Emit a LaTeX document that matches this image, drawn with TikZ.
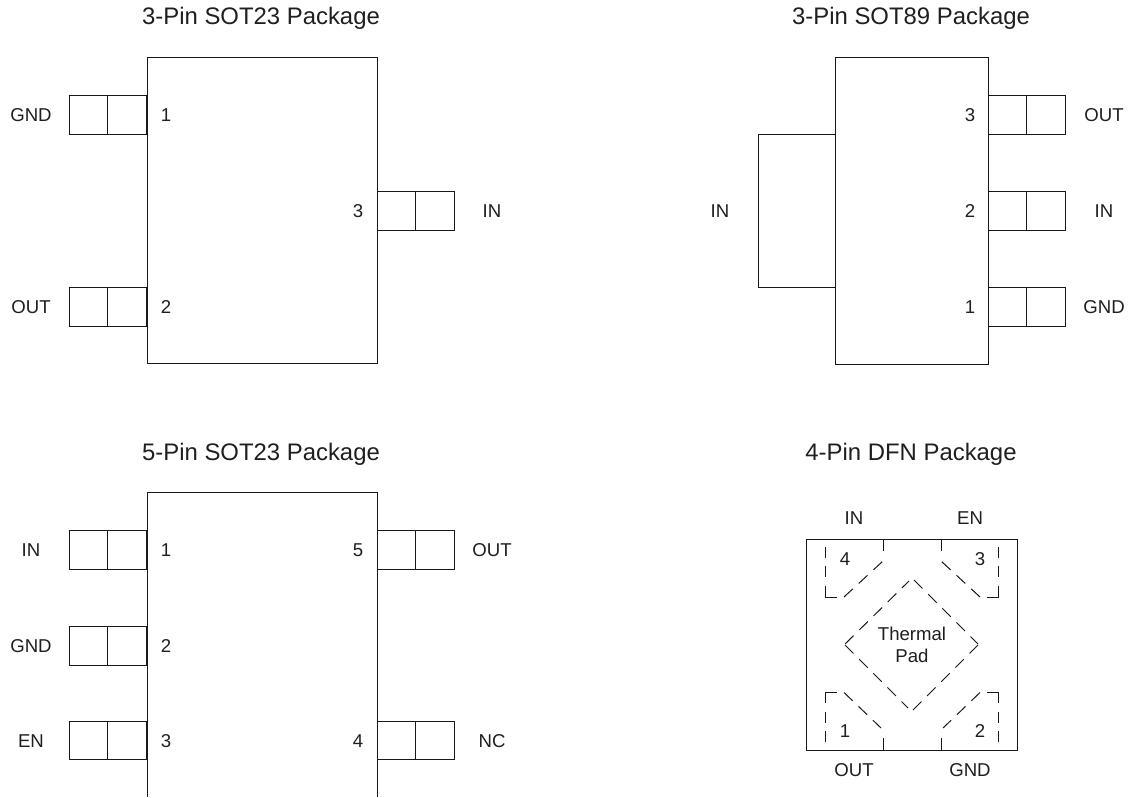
\documentclass[tikz,border=0pt]{standalone}
\usepackage{fontspec}
\setmainfont{Liberation Sans}
\begin{document}
\begin{tikzpicture}[x=1pt,y=-1pt,
  outline/.style={draw=black!90,line width=1pt,fill=none},
  dashv/.style={draw=black!90,line width=1pt,dash pattern=on 11pt off 8pt},
  dashd/.style={draw=black!90,line width=1pt,dash pattern=on 12pt off 8pt},
  lbl/.style={inner sep=0pt,text=black!88,font=\fontsize{18.6}{22.5}\selectfont,align=center},
  ttl/.style={inner sep=0pt,anchor=base,text=black!88,font=\fontsize{23.9}{27}\selectfont},
  cell/.style={outline,minimum width=38.5pt,minimum height=38.5pt,inner sep=0pt,anchor=center}]
\useasboundingbox (0,0) rectangle (1131,797);
\fill[white] (0,0) rectangle (1131,797);
% SOT23-3
\node[ttl] (t1) at (261,25) {3-Pin SOT23 Package};
\draw[outline] (147,58) rectangle (377,363);
\foreach \n/\y in {a/115,b/307}{
  \node[cell] (\n L) at (88.25,\y) {};
  \node[cell] (\n R) at (126.75,\y) {};
}
\node[cell] (cL) at (396.25,211) {};
\node[cell] (cR) at (434.75,211) {};
\node[lbl] (a1) at (31,115) {GND};
\node[lbl] (a2) at (31,307) {OUT};
\node[lbl] (a3) at (492,211) {IN};
\node[lbl] (n1) at (166,115) {1};
\node[lbl] (n2) at (166,307) {2};
\node[lbl] (n3) at (358,211) {3};
% SOT89
\node[ttl] (t2) at (911,25) {3-Pin SOT89 Package};
\draw[outline] (835,58) rectangle (988,364);
\draw[outline] (835,134) -- (758,134) -- (758,287.5) -- (835,287.5);
\foreach \n/\y in {d/115,e/211,f/307}{
  \node[cell] (\n L) at (1007.25,\y) {};
  \node[cell] (\n R) at (1045.75,\y) {};
}
\node[lbl] (b0) at (720,211) {IN};
\node[lbl] (b3) at (1104,115) {OUT};
\node[lbl] (b2) at (1104,211) {IN};
\node[lbl] (b1) at (1104,307) {GND};
\node[lbl] (m3) at (970,115) {3};
\node[lbl] (m2) at (970,211) {2};
\node[lbl] (m1) at (970,307) {1};
% SOT23-5
\node[ttl] (t3) at (261,460) {5-Pin SOT23 Package};
\draw[outline] (147,797) -- (147,492) -- (377,492) -- (377,797);
\foreach \n/\y in {g/550,h/646,i/740.5}{
  \node[cell] (\n L) at (88.25,\y) {};
  \node[cell] (\n R) at (126.75,\y) {};
}
\foreach \n/\y in {j/550,k/740.5}{
  \node[cell] (\n L) at (396.25,\y) {};
  \node[cell] (\n R) at (434.75,\y) {};
}
\node[lbl] (c1) at (31,550) {IN};
\node[lbl] (c2) at (31,646) {GND};
\node[lbl] (c3) at (31,741) {EN};
\node[lbl] (c5) at (492,550) {OUT};
\node[lbl] (c4) at (492,741) {NC};
\node[lbl] (p1) at (166,550) {1};
\node[lbl] (p2) at (166,646) {2};
\node[lbl] (p3) at (166,741) {3};
\node[lbl] (p5) at (358,550) {5};
\node[lbl] (p4) at (358,741) {4};
% DFN
\node[ttl] (t4) at (911,460) {4-Pin DFN Package};
\draw[outline] (806,539) rectangle (1017,750);
\draw[outline] (883,539) -- (883,551);
\draw[outline] (941,539) -- (941,551);
\draw[outline] (883,750) -- (883,738);
\draw[outline] (941,750) -- (941,738);
% corner pads, top
\draw[dashv] (825.5,547) -- (825.5,578);
\draw[outline] (825.5,586) -- (825.5,597) -- (837,597);
\draw[dashd] (844,597) -- (883,561);
\draw[dashv] (998.5,547) -- (998.5,578);
\draw[outline] (998.5,586) -- (998.5,597) -- (987,597);
\draw[dashd] (980,597) -- (941,561);
% corner pads, bottom
\draw[dashv] (825.5,742) -- (825.5,711);
\draw[outline] (825.5,703) -- (825.5,692.5) -- (837,692.5);
\draw[dashd] (844,692.5) -- (881,728);
\draw[dashv] (998.5,742) -- (998.5,711);
\draw[outline] (998.5,703) -- (998.5,692.5) -- (987,692.5);
\draw[dashd] (980,692.5) -- (943,728);
% thermal pad
\draw[dashd] (845,644) -- (909,581);
\draw[dashd] (914,580) -- (978,644);
\draw[dashd] (845,645) -- (908,708);
\draw[dashd] (978,645) -- (912,711);
\node[lbl] (d4t) at (854,518) {IN};
\node[lbl] (d3t) at (970,518) {EN};
\node[lbl] (d1t) at (854,770) {OUT};
\node[lbl] (d2t) at (970,770) {GND};
\node[lbl] (d4) at (845,559) {4};
\node[lbl] (d3) at (980,559) {3};
\node[lbl] (d1) at (845,731) {1};
\node[lbl] (d2) at (980,731) {2};
\node[lbl] (tp) at (912,645) {Thermal\\Pad};
\end{tikzpicture}
\end{document}
